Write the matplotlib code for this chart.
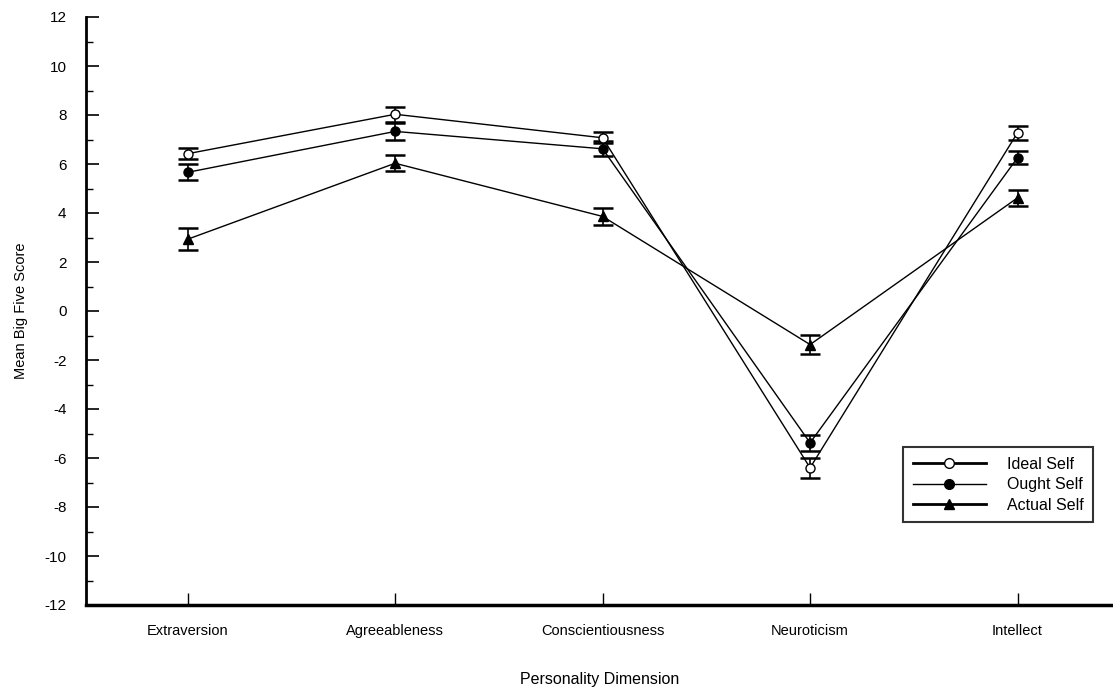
import matplotlib
matplotlib.use("Agg")
import matplotlib.pyplot as plt
from matplotlib.ticker import MultipleLocator
from matplotlib.lines import Line2D

plt.rcParams['font.family'] = ['Liberation Sans', 'DejaVu Sans']
plt.rcParams['axes.unicode_minus'] = False

categories = ["Extraversion", "Agreeableness", "Conscientiousness", "Neuroticism", "Intellect"]
ideal = [6.42, 8.03, 7.07, -6.40, 7.28]
ideal_err = [0.22, 0.30, 0.22, 0.40, 0.28]
ought = [5.66, 7.33, 6.62, -5.38, 6.26]
ought_err = [0.32, 0.33, 0.30, 0.32, 0.28]
actual = [2.93, 6.03, 3.86, -1.37, 4.62]
actual_err = [0.44, 0.33, 0.33, 0.40, 0.33]

fig = plt.figure(figsize=(11.13, 6.9), dpi=100)
ax = fig.add_axes([86/1113, 85/690, 1 - 86/1113, (605-17)/690])

x = list(range(len(categories)))
common = dict(color='black', linewidth=1, capsize=7.5, capthick=1.8, elinewidth=1.2, markersize=6.5)
ax.errorbar(x, ideal, yerr=ideal_err, marker='o', markerfacecolor='white', markeredgecolor='black', **common)
ax.errorbar(x, ought, yerr=ought_err, marker='o', markerfacecolor='black', markeredgecolor='black', **common)
ax.errorbar(x, actual, yerr=actual_err, marker='^', markerfacecolor='black', markeredgecolor='black', **common)

ax.set_xlim(-0.49, 4.46)
ax.set_ylim(-12, 12)
ax.set_xticks(x)
ax.set_xticklabels(categories, fontsize=10.5)
ax.yaxis.set_major_locator(MultipleLocator(2))
ax.yaxis.set_minor_locator(MultipleLocator(1))
ax.tick_params(axis='y', which='major', direction='in', length=9, width=1.2, labelsize=11, pad=14)
ax.tick_params(axis='y', which='minor', direction='in', length=5, width=1)
ax.tick_params(axis='x', which='major', direction='in', length=9, width=1, labelsize=10.5, pad=14)

for s in ['top', 'right']:
    ax.spines[s].set_visible(False)
ax.spines['left'].set_linewidth(2)
ax.spines['bottom'].set_linewidth(2.5)

ax.set_xlabel("Personality Dimension", fontsize=11.5, labelpad=24)
ax.set_ylabel("Mean Big Five Score", fontsize=10.5, labelpad=12)

handles = [
    Line2D([], [], color='black', linewidth=2, marker='o', markerfacecolor='white', markeredgecolor='black', markersize=7),
    Line2D([], [], color='black', linewidth=1, marker='o', markerfacecolor='black', markeredgecolor='black', markersize=7),
    Line2D([], [], color='black', linewidth=2, marker='^', markerfacecolor='black', markeredgecolor='black', markersize=7),
]
leg = ax.legend(handles, ["Ideal Self", "Ought Self", "Actual Self"], loc='upper left',
                bbox_to_anchor=((903-86)/(1113-86), (605-447)/588), fontsize=11.5,
                frameon=True, fancybox=False, edgecolor='black', handlelength=4.6,
                borderpad=0.6, labelspacing=0.35, handletextpad=1.3, borderaxespad=0)
leg.get_frame().set_linewidth(1.5)

fig.savefig("out.png", dpi=100)
